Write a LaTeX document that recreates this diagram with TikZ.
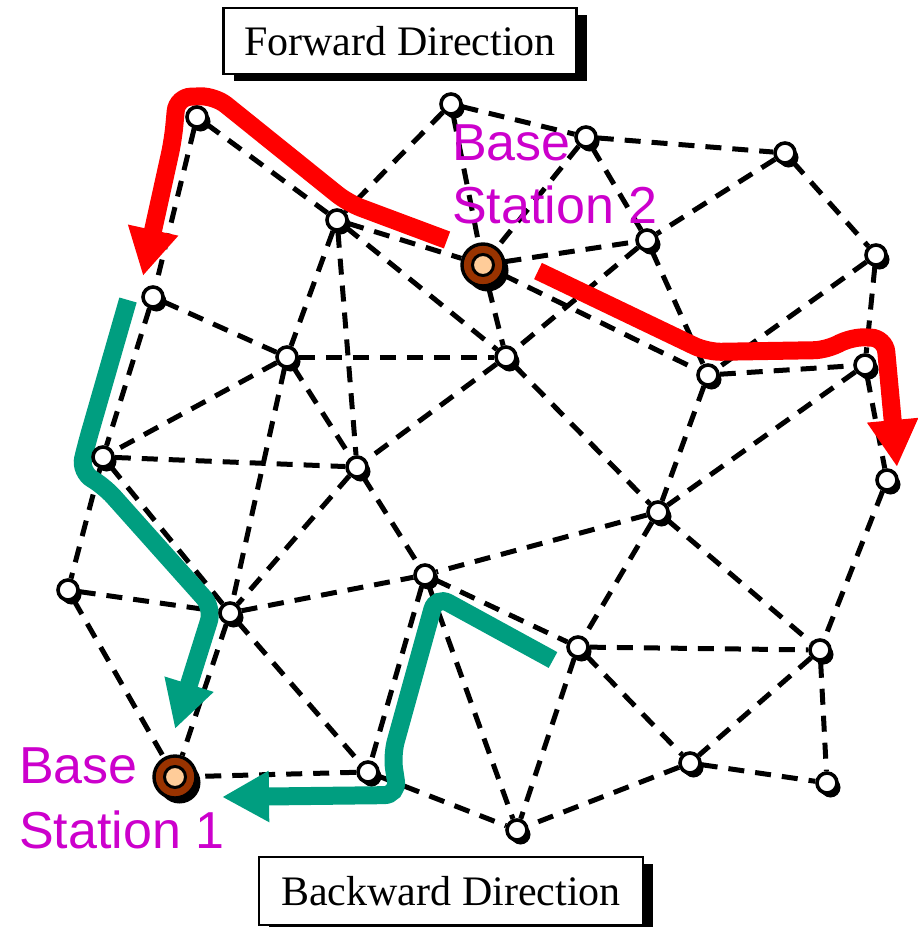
\documentclass[tikz,border=0pt]{standalone}
\usepackage{fontspec}
\setmainfont{Liberation Serif}
\newfontfamily\labelsans{Liberation Sans}
\usetikzlibrary{arrows.meta,shadows}
\definecolor{fwdred}{RGB}{255,0,0}
\definecolor{bwdgreen}{RGB}{0,158,128}
\definecolor{bslabel}{RGB}{204,0,204}
\definecolor{bsbrown}{RGB}{153,51,0}
\definecolor{bscore}{RGB}{255,204,153}
\pgfdeclarelayer{edges}
\pgfdeclarelayer{routes}
\pgfsetlayers{edges,routes,main}

\begin{document}
\begin{tikzpicture}[x=1pt,y=-1pt,
  sensor/.style={circle, draw=black, line width=3.6pt, fill=white,
    minimum size=20pt, inner sep=0pt,
    drop shadow={shadow xshift=3.5pt, shadow yshift=-4.5pt, fill=black, opacity=1}},
  station/.style={circle, draw=black, line width=3.4pt, fill=bsbrown,
    minimum size=42pt, inner sep=0pt,
    drop shadow={shadow xshift=4.5pt, shadow yshift=-5.5pt, fill=black, opacity=1}},
  stationcore/.style={circle, draw=black, line width=3pt, fill=bscore,
    minimum size=21pt, inner sep=0pt},
  link/.style={draw=black, line width=5pt, dash pattern=on 16pt off 11pt},
  route/.style={line width=18pt, rounded corners=14pt,
    -{Triangle[length=47pt,width=48pt]}},
  dirbox/.style={draw=black, line width=2.4pt, fill=white, inner sep=0pt,
    font=\fontsize{42}{50}\selectfont,
    drop shadow={shadow xshift=10pt, shadow yshift=-7pt, fill=black, opacity=1}},
  bstext/.style={anchor=base west, inner sep=0pt, text=bslabel,
    font=\labelsans\fontsize{52}{62}\selectfont}
]
\useasboundingbox (0,0) rectangle (918,927);

% sensor field
\node[sensor] (n1)  at (197,117) {};
\node[sensor] (n2)  at (451,104) {};
\node[sensor] (n3)  at (586,137) {};
\node[sensor] (n4)  at (785,153) {};
\node[sensor] (n5)  at (337,220) {};
\node[sensor] (n6)  at (647,240) {};
\node[sensor] (n7)  at (876,255) {};
\node[sensor] (n8)  at (153,297) {};
\node[sensor] (n9)  at (287,357) {};
\node[sensor] (n10) at (506,357) {};
\node[sensor] (n11) at (708,375) {};
\node[sensor] (n12) at (865,365) {};
\node[sensor] (n13) at (103,457) {};
\node[sensor] (n14) at (357,467) {};
\node[sensor] (n15) at (887,480) {};
\node[sensor] (n16) at (658,512) {};
\node[sensor] (n17) at (68,590) {};
\node[sensor] (n18) at (425,575) {};
\node[sensor] (n19) at (230,613) {};
\node[sensor] (n20) at (578,647) {};
\node[sensor] (n21) at (820,650) {};
\node[sensor] (n22) at (368,772) {};
\node[sensor] (n23) at (690,763) {};
\node[sensor] (n24) at (827,783) {};
\node[sensor] (n25) at (517,830) {};

% base stations
\node[station] (bs1) at (175,777) {};
\node[stationcore] (bs1c) at (bs1) {};
\node[station] (bs2) at (483,265) {};
\node[stationcore] (bs2c) at (bs2) {};

% radio links
\begin{pgfonlayer}{edges}
\foreach \a/\b in {n1/n5, n1/n8, n2/n3, n2/n5, n2/bs2, n3/n4, n3/bs2, n3/n6,
  n4/n6, n4/n7, n5/bs2, n5/n9, n5/n14, n5/n10, bs2/n6, bs2/n10, bs2/n11,
  n6/n10, n6/n11, n7/n11, n7/n12, n8/n9, n8/n13, n9/n10, n9/n13, n9/n14,
  n9/n19, n10/n14, n10/n16, n11/n12, n11/n16, n12/n16, n12/n15, n13/n14,
  n13/n17, n13/n19, n14/n19, n14/n18, n15/n21, n16/n18, n16/n20, n16/n21,
  n17/n19, n17/bs1, n19/bs1, n19/n18, n19/n22, n18/n22, n18/n20, n18/n25,
  n20/n21, n20/n25, n20/n23, n21/n23, n21/n24, n23/n24, n23/n25, n22/bs1,
  n22/n25}
  \draw[link] (\a) -- (\b);
\end{pgfonlayer}

% forward and backward routes
\begin{pgfonlayer}{routes}
\draw[route, fwdred] (447,240) -- (348,203) -- (215,96) -- (177,97)
  -- (173,140) -- (143,276);
\draw[route, fwdred] (538,271) -- (707,352) -- (828,350) -- (850,337)
  -- (885,338) -- (897,467);
\draw[route, bwdgreen] (128,300) -- (86,446) -- (80,472) -- (104,486)
  -- (213,608) -- (175,729);
\draw[route, bwdgreen] (553,660) -- (436,596) -- (392,755) -- (398,795)
  -- (222,797);
\end{pgfonlayer}

% labels
\node[bstext] (lbl2a) at (452,160) {Base};
\node[bstext] (lbl2b) at (452,223) {Station 2};
\node[bstext] (lbl1a) at (19,783) {Base};
\node[bstext] (lbl1b) at (19,848) {Station 1};

\node[dirbox, minimum width=353pt, minimum height=66pt] (fwd) at (400,41)
  {Forward Direction};
\node[dirbox, minimum width=384pt, minimum height=68pt] (bwd) at (451,891)
  {Backward Direction};
\end{tikzpicture}
\end{document}
